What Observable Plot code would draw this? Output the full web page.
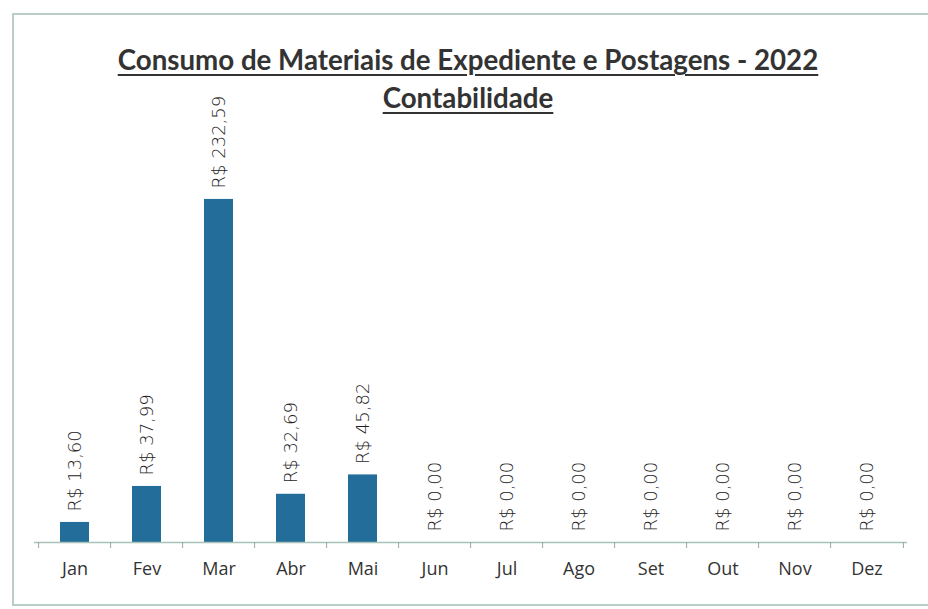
<!DOCTYPE html>
<html>
<head>
<meta charset="utf-8">
<script src="https://cdn.jsdelivr.net/npm/d3@7"></script>
<script src="https://cdn.jsdelivr.net/npm/@observablehq/plot@0.6"></script>
<style>
  html, body { margin: 0; padding: 0; background: #fff; }
  #wrap { position: relative; width: 928px; height: 609px; overflow: hidden; }
  #frame { position: absolute; left: 12px; top: 13px; width: 930px; height: 593px;
           border: 2px solid #b9cfc6; box-sizing: border-box; }
  .t { position: absolute; left: 0; width: 936px; text-align: center; color: #333;
       font-family: Lato, "Open Sans", sans-serif; font-weight: 700; }
  .t span { text-decoration: underline; text-decoration-thickness: 2px; text-underline-offset: 4px; }
  #title { top: 43px; font-size: 27.7px; }
  #subtitle { top: 81px; font-size: 27.7px; }
  #chart { position: absolute; left: 0; top: 70px; }
</style>
</head>
<body>
<div id="wrap">
  <div id="frame"></div>
  <div class="t" id="title"><span>Consumo de Materiais de Expediente e Postagens - 2022</span></div>
  <div class="t" id="subtitle"><span>Contabilidade</span></div>
  <div id="chart"></div>
</div>
<script>
const months = ["Jan","Fev","Mar","Abr","Mai","Jun","Jul","Ago","Set","Out","Nov","Dez"];
const values = [13.60, 37.99, 232.59, 32.69, 45.82, 0, 0, 0, 0, 0, 0, 0];
const labels = ["R$ 13,60","R$ 37,99","R$ 232,59","R$ 32,69","R$ 45,82","R$ 0,00","R$ 0,00","R$ 0,00","R$ 0,00","R$ 0,00","R$ 0,00","R$ 0,00"];

const data = months.map((m, i) => ({month: m, value: values[i], label: labels[i]}));

const W = 928, H = 539, mL = 34, mR = 21, mT = 30, mB = 67;
const bw = (W - mL - mR) / months.length;
const yMax = (H - mT - mB) / 1.475;
const tickLen = 6 / 1.475;

const plot = Plot.plot({
  width: W, height: H,
  marginLeft: mL, marginRight: mR, marginTop: mT, marginBottom: mB,
  style: {background: "transparent", color: "#333", fontFamily: "'Open Sans', sans-serif"},
  x: {domain: months, paddingInner: 0.6, paddingOuter: 0.3, label: null, axis: null},
  y: {domain: [0, yMax], axis: null},
  marks: [
    Plot.barY(data, {x: "month", y: "value", fill: "#236d9b"}),
    Plot.ruleY([0], {stroke: "#a9c2b7", strokeWidth: 1.5}),
    Plot.ruleX(data, {x: "month", dx: -bw / 2, y1: 0, y2: -tickLen, stroke: "#8fab9f"}),
    Plot.ruleX(data.slice(-1), {x: "month", dx: bw / 2, y1: 0, y2: -tickLen, stroke: "#8fab9f"}),
    Plot.text(data, {x: "month", y: "value", text: "label", rotate: -90, textAnchor: "start",
                     dy: -11, fontSize: 18, fontWeight: 300, fill: "#1e1e1e", fontFamily: "'DejaVu Sans', sans-serif"}),
    Plot.text(data, {x: "month", frameAnchor: "bottom", text: "month", dy: 32, fontSize: 18,
                     fill: "#333", fontFamily: "'Open Sans', sans-serif"})
  ]
});
document.getElementById("chart").appendChild(plot);
</script>
</body>
</html>
